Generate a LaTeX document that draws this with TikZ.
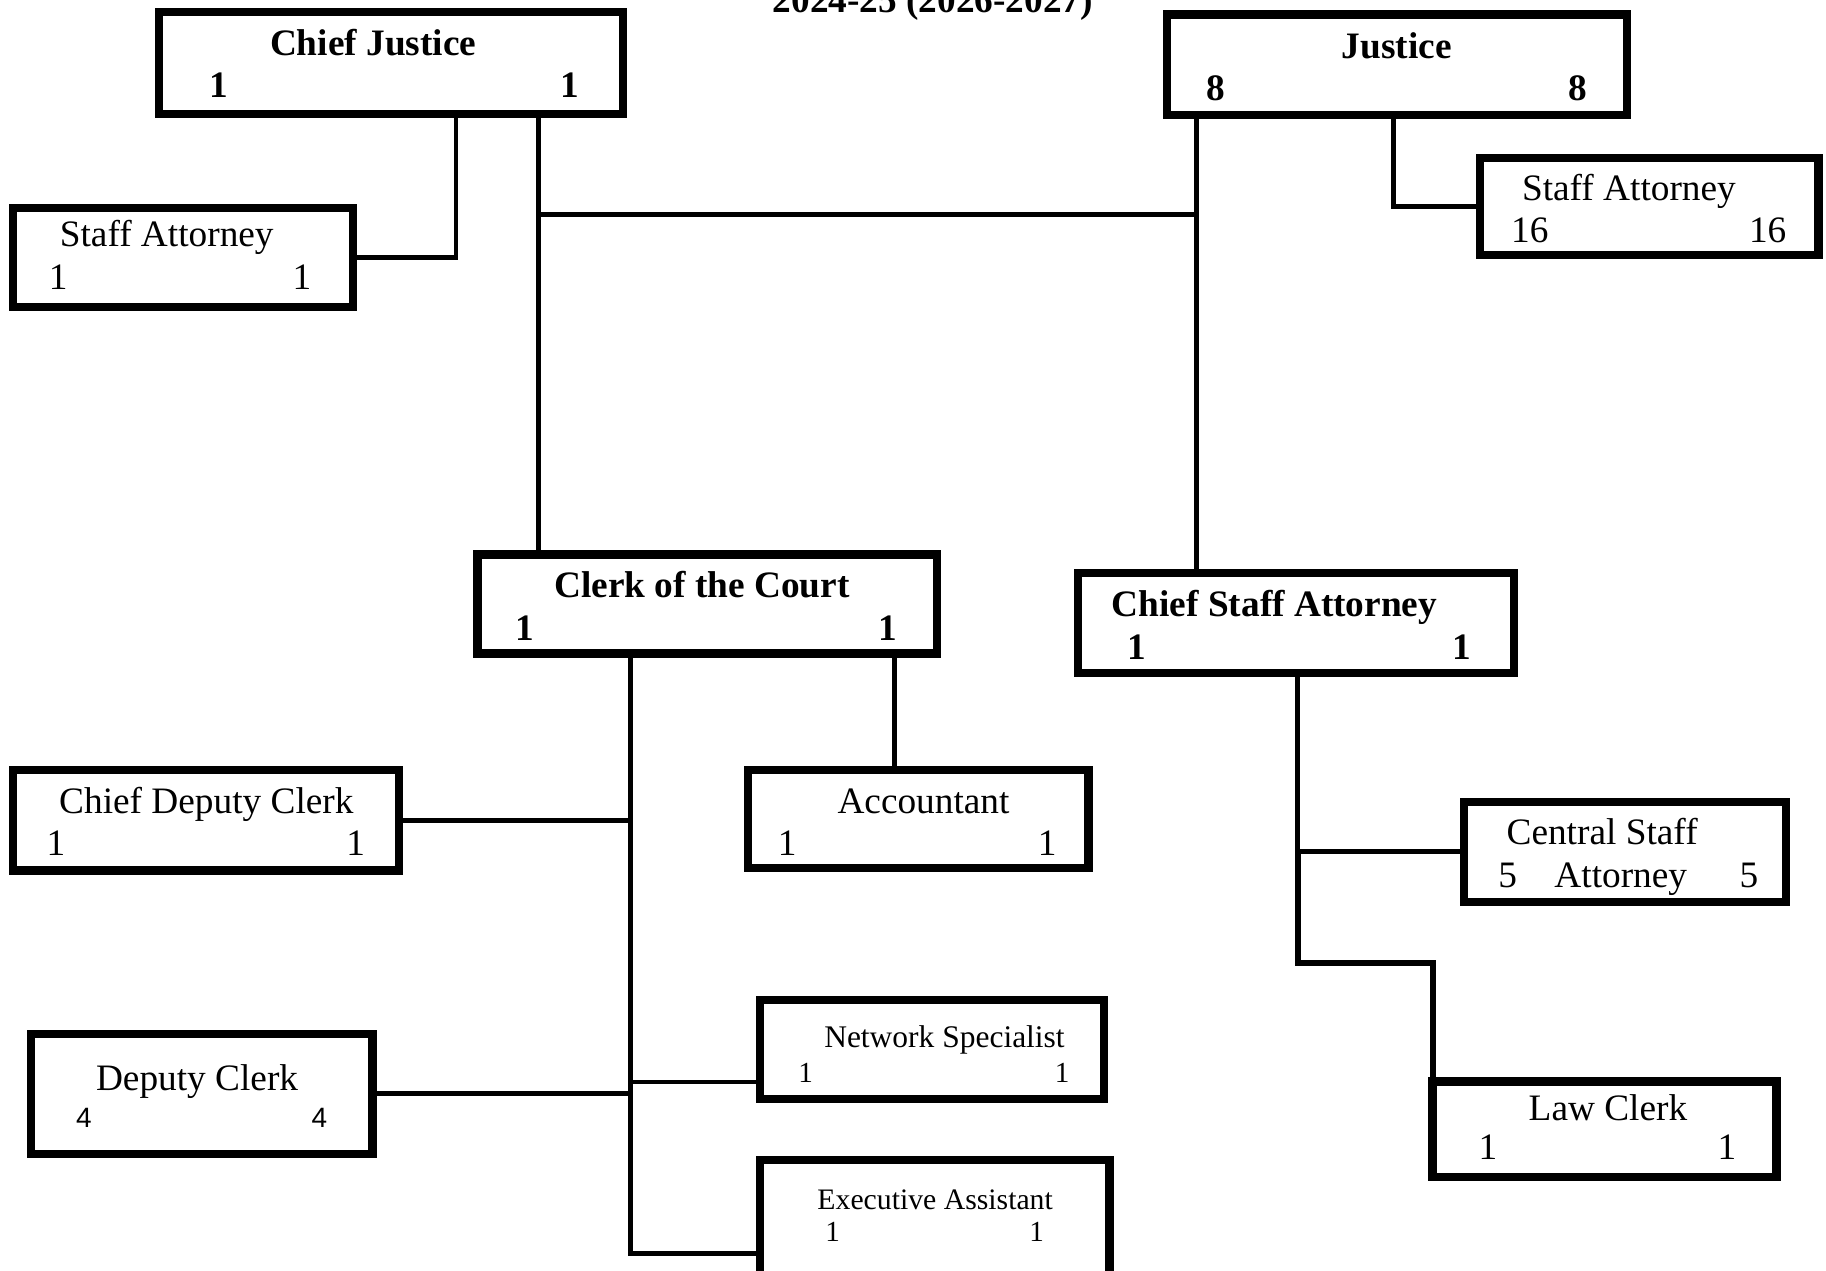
\documentclass[tikz,border=0pt]{standalone}
\usepackage{fontspec}
\setmainfont{Liberation Serif}
\newfontfamily\numsans{Liberation Sans}
\tikzset{
  box/.style={draw, line width=7pt, rectangle, inner sep=0pt, fill=white},
  link/.style={line width=4pt, line cap=rect},
  linkthick/.style={line width=5.5pt, line cap=rect, line join=miter},
  tb/.style={font=\fontsize{32}{32}\selectfont\bfseries, inner sep=0pt, anchor=base},
  tr/.style={font=\fontsize{32}{32}\selectfont, inner sep=0pt, anchor=base},
  tm/.style={font=\fontsize{27}{27}\selectfont, inner sep=0pt, anchor=base},
  te/.style={font=\fontsize{25.5}{25.5}\selectfont, inner sep=0pt, anchor=base},
  tn/.style={font=\fontsize{25}{25}\selectfont, inner sep=0pt, anchor=base},
  ts/.style={font=\fontsize{24}{24}\selectfont\numsans, inner sep=0pt, anchor=base},
}
\newcommand\orgbox[5]{\node[box, minimum width={(#4-#2-7)*1pt}, minimum height={(#5-#3-7)*1pt}] (#1) at ({(#2+#4)/2},{(#3+#5)/2}) {};}
\begin{document}
\begin{tikzpicture}[x=1pt,y=-1pt]
\useasboundingbox (0,0) rectangle (1566,1090);
% title (cut off at top)
\node[tb] (title) at (800,11) {2024-25 (2026-2027)};
% helper coordinates
\coordinate (cjx) at (391,0);
\coordinate (jn1) at (462,184);
\coordinate (jn2) at (1026,184);
\coordinate (jx) at (1195,0);
\coordinate (ccx) at (541,0);
\coordinate (accx) at (767,0);
\coordinate (nsy) at (0,928);
\coordinate (eay) at (0,1075);
\coordinate (csax) at (1113,0);
\coordinate (lcbend) at (1229,826);
% boxes (outer edges)
\orgbox{cj}{133}{7}{538}{101}
\orgbox{sa1}{8}{175}{306}{267}
\orgbox{j}{997}{9}{1399}{102}
\orgbox{sa2}{1266}{132}{1563}{222}
\orgbox{cc}{406}{472}{807}{564}
\orgbox{csa}{921}{488}{1302}{581}
\orgbox{cdc}{8}{657}{346}{750}
\orgbox{acc}{638}{657}{937}{748}
\orgbox{csta}{1252}{684}{1535}{777}
\orgbox{dc}{23}{883}{323}{993}
\orgbox{ns}{648}{854}{950}{946}
\orgbox{ea}{648}{991}{955}{1100}
\orgbox{lc}{1225}{924}{1527}{1013}
% connectors
\draw[link] (cj.south -| cjx) |- (sa1.east);
\draw[link] (cj.south -| jn1) -- (cc.north -| jn1);
\draw[link] (jn1) -- (jn2);
\draw[link] (j.south -| jn2) -- (csa.north -| jn2);
\draw[link] (j.south -| jx) |- (sa2.west);
\draw[link] (cc.south -| accx) -- (acc.north -| accx);
\draw[link] (cc.south -| ccx) |- (ea.west |- eay);
\draw[link] (cdc.east) -- (cdc.east -| ccx);
\draw[link] (dc.east) -- (dc.east -| ccx);
\draw[link] (ccx |- nsy) -- (ns.west |- nsy);
\draw[link] (csa.south -| csax) -- (csta.west -| csax);
\draw[link] (csta.west -| csax) -- (csta.west);
\draw[linkthick] (csta.west -| csax) |- (lcbend) -- (lc.north -| lcbend);
% texts
\node[tb] (cj-t) at (320,48) {Chief Justice};
\node[tb] (cj-a) at (188,84) {1};
\node[tb] (cj-b) at (489,84) {1};
\node[tr] (sa1-t) at (143,211) {Staff Attorney};
\node[tr] (sa1-a) at (50,248) {1};
\node[tr] (sa1-b) at (259,248) {1};
\node[tb] (j-t) at (1198,50) {Justice};
\node[tb] (j-a) at (1043,86) {8};
\node[tb] (j-b) at (1353,86) {8};
\node[tr] (sa2-t) at (1397,172) {Staff Attorney};
\node[tr] (sa2-a) at (1312,208) {16};
\node[tr] (sa2-b) at (1516,208) {16};
\node[tb] (cc-t) at (602,512) {Clerk of the Court};
\node[tb] (cc-a) at (450,549) {1};
\node[tb] (cc-b) at (761,549) {1};
\node[tb] (csa-t) at (1093,529) {Chief Staff Attorney};
\node[tb] (csa-a) at (975,566) {1};
\node[tb] (csa-b) at (1254,566) {1};
\node[tr] (cdc-t) at (177,698) {Chief Deputy Clerk};
\node[tr] (cdc-a) at (48,734) {1};
\node[tr] (cdc-b) at (305,734) {1};
\node[tr] (acc-t) at (792,698) {Accountant};
\node[tr] (acc-a) at (675,734) {1};
\node[tr] (acc-b) at (898,734) {1};
\node[tr] (csta-t) at (1374,724) {Central Staff};
\node[tr] (csta-t2) at (1390,761) {Attorney};
\node[tr] (csta-a) at (1293,761) {5};
\node[tr] (csta-b) at (1500,761) {5};
\node[tr] (dc-t) at (169,935) {Deputy Clerk};
\node[ts] (dc-a) at (72,967) {4};
\node[ts] (dc-b) at (274,967) {4};
\node[tm] (ns-t) at (810,898) {Network Specialist};
\node[tn] (ns-a) at (691,928) {1};
\node[tn] (ns-b) at (911,928) {1};
\node[te] (ea-t) at (802,1037) {Executive Assistant};
\node[tn] (ea-a) at (714,1065) {1};
\node[tn] (ea-b) at (889,1065) {1};
\node[tr] (lc-t) at (1379,961) {Law Clerk};
\node[tr] (lc-a) at (1276,994) {1};
\node[tr] (lc-b) at (1481,994) {1};
\end{tikzpicture}
\end{document}
